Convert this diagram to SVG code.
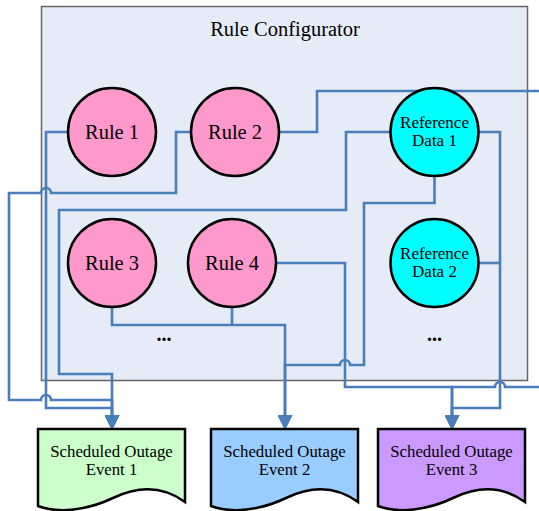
<svg xmlns="http://www.w3.org/2000/svg" width="539" height="511" viewBox="0 0 539 511">
  <style>
    .lbl { font-family: "Liberation Serif", "Times New Roman", serif; fill: #000; text-anchor: middle; }
    .rule { fill: #FF99CC; stroke: #000; stroke-width: 2.5; }
    .ref { fill: #00FFFF; stroke: #000; stroke-width: 2.5; }
    .doc { stroke: #000; stroke-width: 2.5; }
    .wire { fill: none; stroke: #4A7EBB; stroke-width: 2.6; stroke-linejoin: miter; }
  </style>
  <defs>
    <marker id="arrow" markerUnits="userSpaceOnUse" viewBox="0 0 14 14" markerWidth="15" markerHeight="15" refX="0" refY="7" orient="auto">
      <path d="M0,0 L14,7 L0,14 z" fill="#4A7EBB"/>
    </marker>
  </defs>

  <!-- container -->
  <g id="rule-configurator">
    <rect x="41.5" y="6.5" width="486" height="374" fill="#E6ECF7" stroke="#666666" stroke-width="1.5"/>
    <text class="lbl" x="285" y="36" font-size="20.5">Rule Configurator</text>
  </g>

  <!-- connectors -->
  <g id="connectors" class="wire">
    <!-- into event 1 -->
    <path d="M68,132 H46 V408 H112 V415" marker-end="url(#arrow)"/>
    <path d="M191,132 H176 V193 H51 A5,5 0 0 0 41,193 H9 V400 H41 A5,5 0 0 1 51,400 H112 V415" marker-end="url(#arrow)"/>
    <path d="M390,132 H346 V210 H59 V374 H112 V415" marker-end="url(#arrow)"/>
    <!-- into event 2 -->
    <path d="M112,307 V325 H285 V415" marker-end="url(#arrow)"/>
    <path d="M232,307 V325"/>
    <path d="M434.5,176 V203 H364 V365 H350 A5,5 0 0 0 340,365 H285 V415" marker-end="url(#arrow)"/>
    <!-- into event 3 -->
    <path d="M277,263 H345 V387 H452 V415" marker-end="url(#arrow)"/>
    <path d="M279,132 H317 V91 H560 V387 H505 A5,5 0 0 0 495,387 H452 V415" marker-end="url(#arrow)"/>
    <path d="M479,132 H500 V408 H452 V415" marker-end="url(#arrow)"/>
    <path d="M479,263 H500"/>
  </g>

  <!-- rules -->
  <g id="rule-1">
    <circle class="rule" cx="112" cy="132" r="44"/>
    <text class="lbl" x="112" y="139" font-size="20.5">Rule 1</text>
  </g>
  <g id="rule-2">
    <circle class="rule" cx="235" cy="132" r="44"/>
    <text class="lbl" x="235" y="139" font-size="20.5">Rule 2</text>
  </g>
  <g id="rule-3">
    <circle class="rule" cx="112" cy="263" r="44"/>
    <text class="lbl" x="112" y="270" font-size="20.5">Rule 3</text>
  </g>
  <g id="rule-4">
    <circle class="rule" cx="232" cy="263" r="44"/>
    <text class="lbl" x="232" y="270" font-size="20.5">Rule 4</text>
  </g>
  <g id="rule-more">
    <text class="lbl" x="164" y="341" font-size="20" font-weight="bold">...</text>
  </g>

  <!-- reference data -->
  <g id="reference-data-1">
    <circle class="ref" cx="434.5" cy="132" r="44"/>
    <text class="lbl" x="434.5" y="128" font-size="17">Reference</text>
    <text class="lbl" x="434.5" y="146" font-size="17">Data 1</text>
  </g>
  <g id="reference-data-2">
    <circle class="ref" cx="434.5" cy="263" r="44"/>
    <text class="lbl" x="434.5" y="259" font-size="17">Reference</text>
    <text class="lbl" x="434.5" y="277" font-size="17">Data 2</text>
  </g>
  <g id="reference-more">
    <text class="lbl" x="434.5" y="341" font-size="20" font-weight="bold">...</text>
  </g>

  <!-- scheduled outage events -->
  <g id="event-1">
    <path class="doc" fill="#CCFFCC" d="M38,429 H185 V502 C163,486 138,486 113,498 C88,510 58,514 38,506 Z"/>
    <text class="lbl" x="111.5" y="457" font-size="16.8">Scheduled Outage</text>
    <text class="lbl" x="111.5" y="475" font-size="16.8">Event 1</text>
  </g>
  <g id="event-2">
    <path class="doc" fill="#99CCFF" d="M211,429 H358 V502 C336,486 311,486 286,498 C261,510 231,514 211,506 Z"/>
    <text class="lbl" x="284.5" y="457" font-size="16.8">Scheduled Outage</text>
    <text class="lbl" x="284.5" y="475" font-size="16.8">Event 2</text>
  </g>
  <g id="event-3">
    <path class="doc" fill="#CC99FF" d="M378,429 H525 V502 C503,486 478,486 453,498 C428,510 398,514 378,506 Z"/>
    <text class="lbl" x="451.5" y="457" font-size="16.8">Scheduled Outage</text>
    <text class="lbl" x="451.5" y="475" font-size="16.8">Event 3</text>
  </g>
</svg>
